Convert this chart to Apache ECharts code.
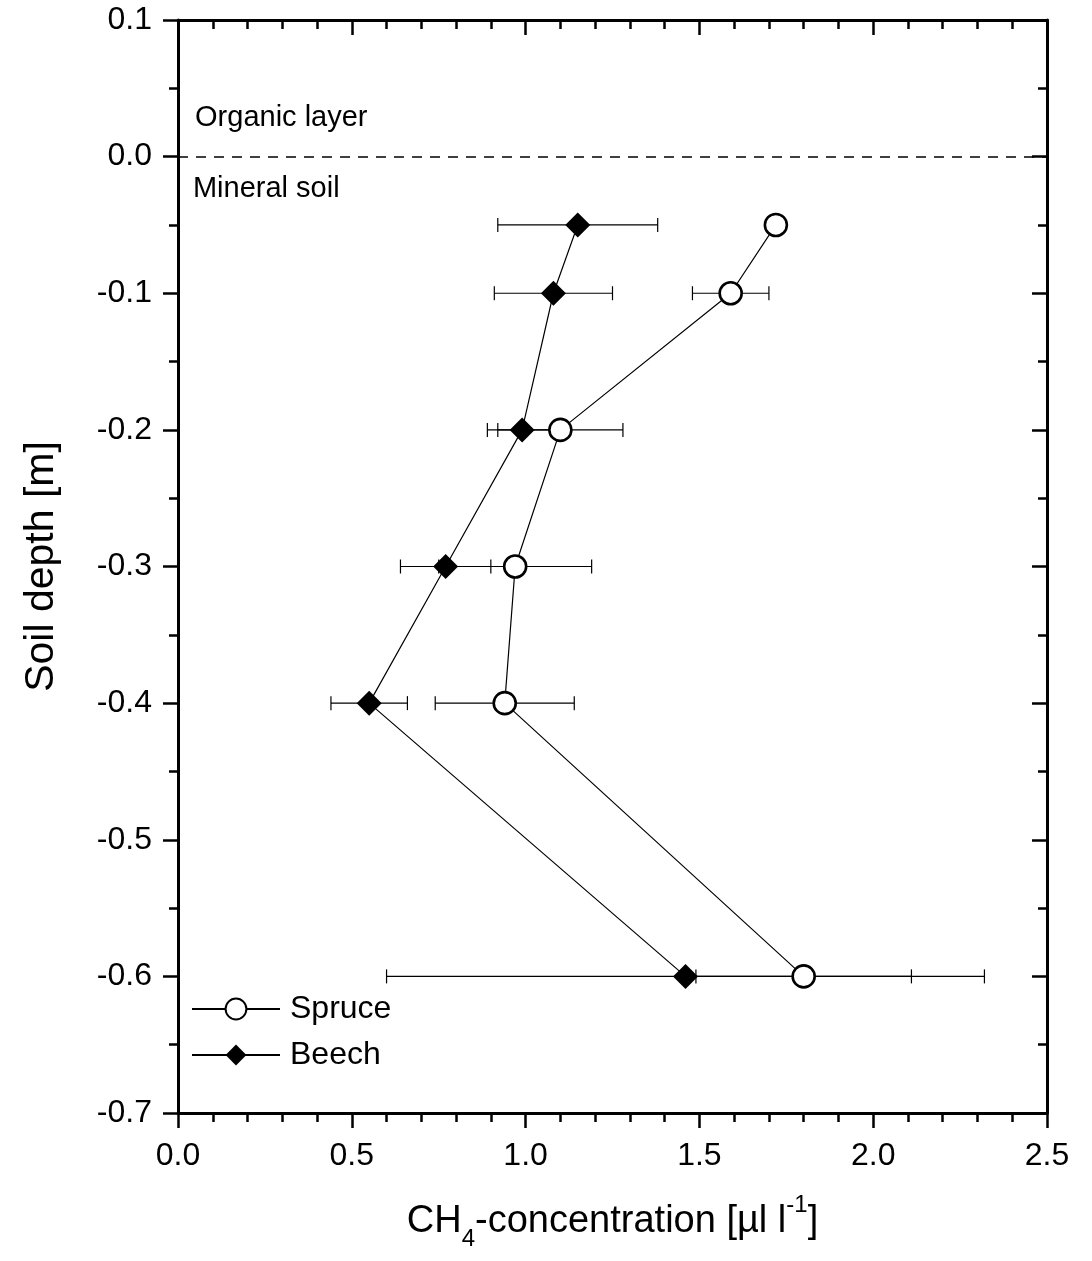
<!DOCTYPE html>
<html>
<head>
<meta charset="utf-8">
<script src="https://cdn.jsdelivr.net/npm/echarts@6/dist/echarts.min.js"></script>
<style>
  html, body { margin: 0; padding: 0; background: #fff; }
  #chart { width: 1092px; height: 1261px; }
</style>
</head>
<body>
<div id="chart"></div>
<script>
// Soil depth of each sampling level [m]
const depth = [-0.05, -0.1, -0.2, -0.3, -0.4, -0.6];

// CH4 concentration in soil air [µl l-1], mean and error
const spruceMean = [1.72, 1.59, 1.10, 0.97, 0.94, 1.80];
const spruceErr  = [0.02, 0.11, 0.18, 0.22, 0.20, 0.31];
const beechMean  = [1.15, 1.08, 0.99, 0.77, 0.55, 1.46];
const beechErr   = [0.23, 0.17, 0.10, 0.13, 0.11, 0.86];

// Axis tick labels
const xTickLabels = ['0.0', '0.5', '1.0', '1.5', '2.0', '2.5'];
const yTickLabels = ['-0.7', '-0.6', '-0.5', '-0.4', '-0.3', '-0.2', '-0.1', '0.0', '0.1'];

const FONT = 'Liberation Sans, Arial, Helvetica, sans-serif';
const AXIS_W = 3;

function xLabel(v) {
  const i = Math.round(v / 0.5);
  return xTickLabels[i] !== undefined ? xTickLabels[i] : '';
}
function yLabel(v) {
  const i = Math.round((v + 0.7) / 0.1);
  return yTickLabels[i] !== undefined ? yTickLabels[i] : '';
}

function pointsOf(means) {
  return depth.map((d, i) => [means[i], d]);
}
function barsOf(means, errs) {
  return depth.map((d, i) => [means[i] - errs[i], means[i] + errs[i], d]);
}

function renderErrorBar(params, api) {
  const lo = api.coord([api.value(0), api.value(2)]);
  const hi = api.coord([api.value(1), api.value(2)]);
  const h = 7;
  const st = { stroke: '#000', lineWidth: 1.2 };
  return {
    type: 'group',
    children: [
      { type: 'line', shape: { x1: lo[0], y1: lo[1], x2: hi[0], y2: hi[1] }, style: st },
      { type: 'line', shape: { x1: lo[0], y1: lo[1] - h, x2: lo[0], y2: lo[1] + h }, style: st },
      { type: 'line', shape: { x1: hi[0], y1: hi[1] - h, x2: hi[0], y2: hi[1] + h }, style: st }
    ]
  };
}

function xAxisBase(pos, inside, showLabel) {
  return {
    type: 'value', position: pos, min: 0, max: 2.5, interval: 0.5,
    axisLine: { show: true, onZero: false, lineStyle: { color: '#000', width: AXIS_W } },
    axisTick: { show: true, inside: inside, length: 15, lineStyle: { color: '#000', width: 2.5 } },
    minorTick: { show: true, splitNumber: 5, length: 9, lineStyle: { color: '#000', width: 2.5 } },
    splitLine: { show: false },
    minorSplitLine: { show: false },
    axisLabel: {
      show: showLabel, formatter: xLabel, color: '#000',
      fontSize: 32, fontFamily: FONT, margin: 27
    }
  };
}
function yAxisBase(pos, inside, showLabel) {
  return {
    type: 'value', position: pos, min: -0.7, max: 0.1, interval: 0.1,
    axisLine: { show: true, onZero: false, lineStyle: { color: '#000', width: AXIS_W } },
    axisTick: { show: true, inside: inside, length: 15, lineStyle: { color: '#000', width: 2.5 } },
    minorTick: { show: true, splitNumber: 2, length: 9, lineStyle: { color: '#000', width: 2.5 } },
    splitLine: { show: false },
    minorSplitLine: { show: false },
    axisLabel: {
      show: showLabel, formatter: yLabel, color: '#000',
      fontSize: 32, fontFamily: FONT, margin: 26
    }
  };
}

const chart = echarts.init(document.getElementById('chart'), null, { renderer: 'canvas' });

const xBottom = xAxisBase('bottom', false, true);
xBottom.name = '{a|CH}{sub|4}{a|-concentration [µl l}{sup|-1}{a|]}';
xBottom.nameLocation = 'middle';
xBottom.nameGap = 84;
xBottom.nameTextStyle = {
  color: '#000', fontFamily: FONT,
  rich: {
    a:   { fontSize: 38, fontFamily: FONT, color: '#000', lineHeight: 44, verticalAlign: 'bottom' },
    sub: { fontSize: 24, fontFamily: FONT, color: '#000', lineHeight: 44, verticalAlign: 'bottom', padding: [0, 0, -10, 0] },
    sup: { fontSize: 24, fontFamily: FONT, color: '#000', lineHeight: 44, verticalAlign: 'top', padding: [-4, 0, 0, 0] }
  }
};

const yLeft = yAxisBase('left', false, true);
yLeft.name = 'Soil depth [m]';
yLeft.nameLocation = 'middle';
yLeft.nameGap = 116;
yLeft.nameRotate = 90;
yLeft.nameTextStyle = { color: '#000', fontSize: 41, fontFamily: FONT };

chart.setOption({
  animation: false,
  backgroundColor: '#fff',
  grid: { left: 178, right: 45, top: 20, bottom: 148, containLabel: false },
  xAxis: [xBottom, xAxisBase('top', true, false)],
  yAxis: [yLeft, yAxisBase('right', true, false)],
  legend: {
    orient: 'vertical',
    left: 186, top: 988,
    itemWidth: 88, itemHeight: 26, itemGap: 14,
    textStyle: { color: '#000', fontSize: 32, fontFamily: FONT, padding: [0, 0, 0, 5] },
    data: ['Spruce', 'Beech']
  },
  series: [
    {
      name: 'Spruce-err', type: 'custom', renderItem: renderErrorBar,
      encode: { x: [0, 1], y: 2 }, data: barsOf(spruceMean, spruceErr), z: 2, silent: true
    },
    {
      name: 'Beech-err', type: 'custom', renderItem: renderErrorBar,
      encode: { x: [0, 1], y: 2 }, data: barsOf(beechMean, beechErr), z: 2, silent: true
    },
    {
      name: 'Spruce', type: 'line', data: pointsOf(spruceMean),
      symbol: 'circle', symbolSize: 22,
      itemStyle: { color: '#fff', borderColor: '#000', borderWidth: 2.6 },
      lineStyle: { color: '#000', width: 1.2 },
      z: 4
    },
    {
      name: 'Beech', type: 'line', data: pointsOf(beechMean),
      symbol: 'diamond', symbolSize: 25,
      itemStyle: { color: '#000', borderColor: '#000', borderWidth: 0 },
      lineStyle: { color: '#000', width: 1.2 },
      z: 5,
      markLine: {
        silent: true, symbol: ['none', 'none'], label: { show: false },
        lineStyle: { color: '#000', width: 1.6, type: [10, 8] },
        data: [{ yAxis: 0 }]
      }
    }
  ]
});

// Layer annotations placed in data coordinates
const organicPos = chart.convertToPixel({ xAxisIndex: 0, yAxisIndex: 0 }, [0.049, 0.028]);
const mineralPos = chart.convertToPixel({ xAxisIndex: 0, yAxisIndex: 0 }, [0.043, -0.0234]);
chart.setOption({
  graphic: [
    { type: 'text', x: organicPos[0], y: organicPos[1],
      style: { text: 'Organic layer', fill: '#000', fontSize: 29, fontFamily: FONT, align: 'left', verticalAlign: 'middle' } },
    { type: 'text', x: mineralPos[0], y: mineralPos[1],
      style: { text: 'Mineral soil', fill: '#000', fontSize: 29, fontFamily: FONT, align: 'left', verticalAlign: 'middle' } }
  ]
});
</script>
</body>
</html>
